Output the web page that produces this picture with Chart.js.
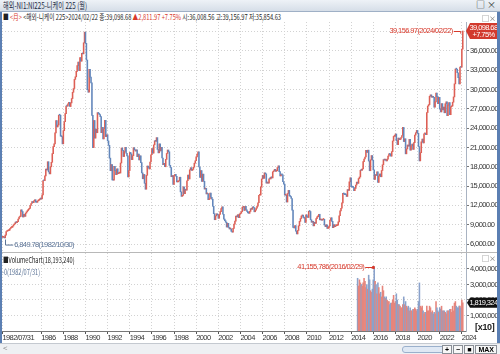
<!DOCTYPE html>
<html>
<head>
<meta charset="utf-8">
<script src="https://cdn.jsdelivr.net/npm/chart.js@4.4.1/dist/chart.umd.min.js"></script>
<style>
  body { margin: 0; width: 500px; height: 354px; overflow: hidden; background: #fff; position: relative;
         font-family: "Noto Sans CJK KR", sans-serif; }
  .abs { position: absolute; white-space: nowrap; }
  #title { left: 0; top: 0; width: 500px; height: 11px; background: linear-gradient(#eef2f7, #d6dee8);
           border-bottom: 1px solid #9fb0c6; }
  #title span { position: absolute; left: 3px; top: -1px; font-size: 9px; color: #1c2a44;
                transform: scaleX(0.69); transform-origin: left; }
  #winbtn { right: 4px; top: -2px; font-size: 9px; color: #333; }
  #info { left: 3px; top: 11px; font-size: 8px; color: #222; transform: scaleX(0.71); transform-origin: left; }
  #info .r { color: #d8392b; }
  #priceWrap { left: 0; top: 22px; }
  #volWrap { left: 0; top: 252px; border-top: 1px solid #b8b8b8; }
  canvas { display: block; }
  .mini { font-size: 7px; color: #666; right: 4px; }
  #volTitle { left: 3px; top: 254px; font-size: 8px; color: #222; transform: scaleX(0.7); transform-origin: left; }
  #volZero { left: 2px; top: 266px; font-size: 8px; color: #5b7396; transform: scaleX(0.7); transform-origin: left; }
  #x10 { left: 475px; top: 322px; font-size: 9px; font-weight: bold; color: #222; font-family: "Liberation Sans", sans-serif; letter-spacing: -0.3px; }
  #bottom { left: 0; top: 343px; width: 500px; height: 11px; background: #eef0f3; border-top: 1px solid #c4c9d0; }
  #bottom .lt { position: absolute; left: 3px; top: -2px; font-size: 8px; color: #888; }
  #slider { position: absolute; left: 402px; top: 2px; width: 48px; height: 5px; border: 1px solid #9ab0cc;
            border-radius: 3px; background: #dfe8f4; }
  #btns { position: absolute; right: 3px; top: 1px; font-size: 7px; font-family: "Liberation Sans", sans-serif; font-weight: bold; }
  #btns span { display: inline-block; border: 1px solid #8a8f96; background: #f7f7f7; padding: 0 2px; line-height: 7px; margin-left: 1px; }
  .frameL { left: 0; top: 12px; width: 2px; height: 331px; background: #5b7fb3; }
  .frameR { right: 0; top: 12px; width: 3px; height: 331px; background: #5b7fb3; }
</style>
</head>
<body>
<div id="title" class="abs"><span>해외-NI1:NI225-니케이 225 (월)</span></div>
<div id="winbtn" class="abs">□ ×</div>
<div id="info" class="abs">■ <span class="r">&lt;月&gt;</span> &lt;해외-니케이 225&gt;2024/02/22 종:39,098.68 <span class="r">▲2,811.97 +7.75%</span> 시:36,008.56 고:39,156.97 저:35,854.63</div>
<div id="priceWrap" class="abs"><canvas id="priceChart" width="500" height="230"></canvas></div>
<div id="volWrap" class="abs"><canvas id="volChart" width="500" height="90"></canvas></div>
<div class="abs mini" style="top:13px">□×</div>
<div class="abs mini" style="top:253px">□×</div>
<div id="volTitle" class="abs">■VolumeChart(18,193,240)</div>
<div id="volZero" class="abs">-0(1982/07/31)</div>
<div id="x10" class="abs">[x10]</div>
<div id="bottom" class="abs"><span class="lt">&lt;</span><div id="slider"></div>
  <div id="btns"><span>+</span><span>−</span><span>■</span><span>MAX</span></div></div>
<div class="abs frameL"></div>
<div class="abs frameR"></div>

<script>
// 월봉 시작월, 종가 (1982/07 ~ 2024/02)
const startYear = 1982, startMonth = 7;
const monthlyClose = [
  7040, 7100, 6950, 7390, 7950, 8017,
  8090, 8150, 8410, 8560, 8600, 8800, 9000, 9150, 9400, 9330, 9460, 9894,
  10200, 10300, 11300, 11050, 10200, 10600, 10300, 10800, 11000, 11200, 11400, 11543,
  11990, 12300, 12580, 12420, 12700, 12880, 12500, 12480, 12700, 12800, 12930, 13113,
  13024, 13640, 15860, 15825, 16590, 17654, 17500, 18787, 17200, 16900, 18000, 18701,
  20048, 21144, 21566, 23274, 25200, 24177, 24488, 26029, 26011, 22765, 22687, 21564,
  23620, 25000, 26260, 27434, 27417, 27769, 28000, 27366, 27924, 28600, 29579, 30159,
  31581, 31985, 32839, 33713, 34266, 32949, 34954, 34431, 35637, 35549, 37269, 38916,
  37189, 34591, 29980, 29584, 33131, 31940, 31036, 25978, 20984, 25194, 22455, 23849,
  23293, 26409, 26292, 26111, 25790, 23291, 24120, 22336, 23916, 25222, 22687, 22984,
  22023, 21339, 19346, 17391, 18348, 15952, 15910, 18061, 17399, 16767, 17684, 16925,
  17024, 17033, 18591, 20919, 20552, 19590, 20380, 21027, 20106, 19703, 16408, 17417,
  20229, 19997, 19112, 19725, 20974, 20644, 20449, 20629, 19564, 19990, 19076, 19723,
  18650, 17053, 16140, 16807, 15437, 14517, 16678, 18117, 17913, 17655, 18744, 19868,
  20813, 20125, 21407, 22041, 21956, 22531, 20693, 20167, 21556, 20466, 21020, 19361,
  18330, 18557, 18003, 19151, 20069, 20605, 20331, 18229, 17888, 16459, 16636, 15259,
  16628, 16832, 16527, 15641, 15671, 15830, 16379, 14108, 13406, 13564, 14883, 13842,
  14499, 14368, 15837, 16702, 16112, 17530, 17862, 17437, 17605, 17942, 18558, 18934,
  19540, 19960, 20337, 17974, 16332, 17411, 15727, 16861, 15747, 14540, 14649, 13786,
  13844, 12884, 12999, 13934, 13262, 12969, 11861, 10714, 9775, 10367, 10697, 10543,
  9998, 10588, 11025, 11493, 11764, 10622, 9877, 9619, 9383, 8640, 9216, 8579,
  8340, 8363, 7973, 7831, 8425, 9083, 9563, 10344, 10219, 10560, 10101, 10677,
  10784, 11042, 11715, 11762, 11236, 11859, 11326, 11082, 10824, 10771, 11069, 11489,
  11388, 11741, 11669, 11009, 11277, 11584, 11900, 12414, 13574, 13607, 14872, 16111,
  16650, 16205, 17060, 16906, 15467, 15505, 15457, 16141, 16128, 16399, 16274, 17226,
  17383, 17604, 17288, 17400, 17876, 18138, 17249, 16569, 16786, 16737, 15681, 15308,
  13592, 13603, 12526, 13850, 14338, 13481, 13377, 13073, 11260, 8577, 8512, 8860,
  7994, 7568, 8110, 8828, 9523, 9958, 10357, 10493, 10133, 10035, 9346, 10546,
  10198, 10126, 11090, 11057, 9769, 9383, 9537, 8824, 9369, 9202, 9937, 10229,
  10238, 10624, 9755, 9850, 9694, 9816, 9833, 8955, 8700, 8988, 8435, 8455,
  8803, 9723, 10084, 9521, 8543, 9007, 8695, 8840, 8870, 8928, 9446, 10395,
  11139, 11559, 12398, 13861, 13775, 13677, 13668, 13389, 14456, 14328, 15662, 16291,
  14915, 14841, 14828, 14304, 14632, 15162, 15621, 15425, 16174, 16414, 17460, 17451,
  17674, 18798, 19207, 19520, 20563, 20236, 20585, 18890, 17388, 19083, 19747, 19034,
  17518, 16027, 16759, 16666, 17235, 15576, 16569, 16887, 16450, 17425, 18308, 19114,
  19041, 19119, 18909, 19197, 19651, 20033, 19925, 19646, 20356, 22012, 22725, 22765,
  23098, 22068, 21454, 22468, 22202, 22305, 22554, 22865, 24120, 21920, 22351, 20015,
  20773, 21385, 21206, 22259, 20601, 21276, 21522, 20704, 21756, 22927, 23294, 23657,
  23205, 21143, 18917, 20194, 21878, 22288, 21710, 23140, 23185, 22977, 26434, 27444,
  27663, 28966, 29179, 28813, 28860, 28792, 27284, 28090, 29453, 28893, 27822, 28792,
  27002, 26527, 27821, 26848, 27280, 26393, 27802, 28092, 25937, 27587, 27969, 26095,
  27327, 27446, 28041, 28856, 30888, 33189, 33172, 32619, 31858, 30859, 33487, 33464,
  36287, 39099
];
const lastClose = 39098.68, lastChange = '+7.75%';
const highMark = { value: 39156.97, date: '2024/02/22' };
const lowMark = { value: 6849.78, date: '1982/10/30' };

// 거래량 (원 단위, 축은 [x10]), 2014/08 부터
const volumeStart = '2014/08';
const volumeValues = [
  34000000, 29000000, 33000000, 31000000, 30000000,
  29000000, 31000000, 34000000, 32000000, 28000000, 30000000, 27000000, 36000000, 33000000, 26000000, 25000000, 27000000,
  33000000, 41155786, 32000000, 30000000, 24000000, 31000000, 28000000, 24000000, 25000000, 22000000, 29000000, 26000000,
  22000000, 21000000, 22000000, 20000000, 19000000, 19000000, 17000000, 18000000, 18000000, 20000000, 23000000, 18000000,
  19000000, 24000000, 20000000, 17000000, 17000000, 16000000, 15000000, 15000000, 17000000, 22000000, 17000000, 19000000,
  16000000, 15000000, 16000000, 13000000, 15000000, 13000000, 13000000, 14000000, 14000000, 15000000, 14000000, 13000000,
  14000000, 19000000, 31000000, 16000000, 15000000, 16000000, 13000000, 11000000, 12000000, 12000000, 16000000, 13000000,
  13000000, 16000000, 15000000, 12000000, 13000000, 11000000, 12000000, 11000000, 19000000, 15000000, 13000000, 12000000,
  15000000, 14000000, 16000000, 13000000, 13000000, 13000000, 12000000, 11000000, 13000000, 13000000, 13000000, 14000000,
  14000000, 12000000, 16000000, 13000000, 18000000, 19000000, 16000000, 15000000, 15000000, 16000000, 16000000, 15000000,
  20000000, 18193240
];
const volumeScale = 10;
const volumePeakDate = '2016/02/29';

const priceTicks = [6000, 9000, 12000, 15000, 18000, 21000, 24000, 27000, 30000, 33000, 36000, 39000];
const volumeTicks = [1000000, 2000000, 3000000, 4000000];
const yearTickYears = [1986, 1988, 1990, 1992, 1994, 1996, 1998, 2000, 2002, 2004, 2006, 2008, 2010, 2012, 2014, 2016, 2018, 2020, 2022, 2024];

// 라벨 (월 단위, 오른쪽 여유 3칸)
const monthLabels = [];
for (let i = 0; i < monthlyClose.length + 3; i++) {
  const m = startMonth - 1 + i;
  monthLabels.push((startYear + Math.floor(m / 12)) + '/' + String(m % 12 + 1).padStart(2, '0'));
}
const tickIdx = [0].concat(yearTickYears.map(y => monthLabels.indexOf(y + '/01')));

const UP = '#dd5f55', DOWN = '#6286bb';
const bodies = monthlyClose.map((c, i) => {
  const o = i === 0 ? c : monthlyClose[i - 1];
  return [Math.min(o, c), Math.max(o, c)];
});
const dirColors = monthlyClose.map((c, i) => (i === 0 || c >= monthlyClose[i - 1]) ? UP : DOWN);

const vStart = monthLabels.indexOf(volumeStart);
const volumes = monthLabels.map((l, i) => (i >= vStart && i - vStart < volumeValues.length) ? volumeValues[i - vStart] / volumeScale : null);
const volColors = monthLabels.map((l, i) => dirColors[i] === DOWN ? '#8aa2cb' : '#e6857c');

const FONT = '"Liberation Sans", sans-serif';
const SPACING = '-0.6px';
Chart.defaults.font.family = FONT;
Chart.defaults.font.size = 7.5;
Chart.defaults.color = '#333';

// 좁은 글자폭 (HTS 비트맵 글꼴 느낌)
const tightText = {
  id: 'tightText',
  beforeInit(chart) { chart.ctx.letterSpacing = SPACING; },
  beforeUpdate(chart) { chart.ctx.letterSpacing = SPACING; },
  beforeDraw(chart) { chart.ctx.letterSpacing = SPACING; }
};

const gridOpts = { color: '#d2d2d2', offset: false };
const setXTicks = s => { s.ticks = tickIdx.map(v => ({ value: v })); };
const noPadY = w => s => { s.width = w; s.paddingTop = 0; s.paddingBottom = 0; };

const priceNotes = {
  id: 'priceNotes',
  afterDraw(chart) {
    const { ctx, scales: { x, y } } = chart;
    ctx.save();
    ctx.font = '7.5px ' + FONT;
    // 최고가
    let px = x.getPixelForValue(monthLabels.indexOf(highMark.date.slice(0, 7)));
    let py = y.getPixelForValue(highMark.value);
    ctx.strokeStyle = '#d8392b'; ctx.fillStyle = '#d8392b'; ctx.lineWidth = 1;
    ctx.beginPath(); ctx.moveTo(px - 9, Math.round(py) + 0.5); ctx.lineTo(px - 2, Math.round(py) + 0.5); ctx.lineTo(px - 2, py + 3); ctx.stroke();
    ctx.textAlign = 'right'; ctx.textBaseline = 'middle';
    ctx.fillText(highMark.value.toLocaleString('en-US', { minimumFractionDigits: 2 }) + '(' + highMark.date + ')', px - 10, py);
    // 최저가
    px = x.getPixelForValue(monthLabels.indexOf(lowMark.date.slice(0, 7)));
    py = y.getPixelForValue(lowMark.value);
    ctx.strokeStyle = '#5b7396'; ctx.fillStyle = '#5b7396';
    ctx.beginPath(); ctx.moveTo(Math.round(px) + 0.5, py + 1); ctx.lineTo(Math.round(px) + 0.5, py + 6.5); ctx.lineTo(px + 8, py + 6.5); ctx.stroke();
    ctx.textAlign = 'left';
    ctx.fillText(lowMark.value.toLocaleString('en-US', { minimumFractionDigits: 2 }) + '(' + lowMark.date + ')', px + 9, py + 6);
    // 현재가 박스
    py = y.getPixelForValue(lastClose);
    const bx = chart.chartArea.right + 2;
    ctx.fillStyle = '#d23a2e';
    ctx.beginPath(); ctx.moveTo(bx - 2, py); ctx.lineTo(bx + 2, py - 8); ctx.lineTo(497, py - 8);
    ctx.lineTo(497, py + 8); ctx.lineTo(bx + 2, py + 8); ctx.closePath(); ctx.fill();
    ctx.fillStyle = '#fff'; ctx.textAlign = 'center';
    ctx.fillText(lastClose.toLocaleString('en-US', { minimumFractionDigits: 2 }), (bx + 497) / 2 + 1, py - 3.5);
    ctx.fillText(lastChange, (bx + 497) / 2 + 1, py + 4);
    ctx.restore();
  }
};

new Chart(document.getElementById('priceChart'), {
  type: 'bar',
  data: {
    labels: monthLabels,
    datasets: [{ data: bodies, backgroundColor: dirColors, borderWidth: 0,
                 barPercentage: 1, categoryPercentage: 1, minBarLength: 1 }]
  },
  options: {
    responsive: false, animation: false, events: [],
    layout: { padding: { left: 2, top: 0, right: 0, bottom: 0 } },
    plugins: { legend: { display: false }, tooltip: { enabled: false } },
    scales: {
      x: {
        grid: { ...gridOpts, drawTicks: false }, border: { display: false, dash: [1, 2] },
        ticks: { display: false, autoSkip: false }, afterBuildTicks: setXTicks,
        afterFit: s => { s.height = 0; s.paddingLeft = 0; s.paddingRight = 0; }
      },
      y: {
        position: 'right', min: 4760, max: 40500,
        afterBuildTicks: s => { s.ticks = priceTicks.map(v => ({ value: v })); },
        afterFit: noPadY(34),
        grid: { ...gridOpts, tickLength: 3, tickColor: '#777' },
        border: { color: '#a9b3c2', dash: [1, 2] },
        ticks: { padding: 1, callback: v => v.toLocaleString('en-US', { minimumFractionDigits: 2 }) }
      }
    }
  },
  plugins: [tightText, priceNotes]
});

const volNotes = {
  id: 'volNotes',
  afterDraw(chart) {
    const { ctx, scales: { x, y } } = chart;
    ctx.save();
    ctx.font = '7.5px ' + FONT;
    const pi = monthLabels.indexOf(volumePeakDate.slice(0, 7));
    const px = x.getPixelForValue(pi), py = Math.round(y.getPixelForValue(volumes[pi]));
    ctx.strokeStyle = '#d8392b'; ctx.fillStyle = '#d8392b'; ctx.lineWidth = 1;
    ctx.beginPath(); ctx.moveTo(px - 9, py + 0.5); ctx.lineTo(px - 1, py + 0.5); ctx.stroke();
    ctx.fillRect(px - 2, py - 1, 2.5, 3);
    ctx.textAlign = 'right'; ctx.textBaseline = 'middle';
    ctx.fillText(volumeValues[pi - vStart].toLocaleString('en-US') + '(' + volumePeakDate + ')', px - 10, py);
    // 현재 거래량 박스
    const cur = volumes[volumeValues.length - 1 + vStart];
    const cy = y.getPixelForValue(cur), bx = chart.chartArea.right + 2;
    ctx.fillStyle = '#111';
    ctx.beginPath(); ctx.moveTo(bx - 1, cy); ctx.lineTo(bx + 2, cy - 5); ctx.lineTo(497, cy - 5);
    ctx.lineTo(497, cy + 5); ctx.lineTo(bx + 2, cy + 5); ctx.closePath(); ctx.fill();
    ctx.fillStyle = '#fff'; ctx.textAlign = 'center';
    ctx.fillText(Math.round(cur).toLocaleString('en-US'), (bx + 497) / 2 + 1, cy + 0.5);
    ctx.restore();
  }
};

new Chart(document.getElementById('volChart'), {
  type: 'bar',
  data: {
    labels: monthLabels,
    datasets: [{ data: volumes, backgroundColor: volColors, borderWidth: 0,
                 barPercentage: 1, categoryPercentage: 1 }]
  },
  options: {
    responsive: false, animation: false, events: [],
    layout: { padding: { left: 2, top: 0, right: 0, bottom: 0 } },
    plugins: { legend: { display: false }, tooltip: { enabled: false } },
    scales: {
      x: {
        grid: { ...gridOpts, tickLength: 3, tickColor: '#555' },
        border: { color: '#777', dash: [1, 2] },
        afterBuildTicks: setXTicks,
        afterFit: s => { s.height = 12; s.paddingLeft = 0; s.paddingRight = 0; },
        ticks: { autoSkip: false, maxRotation: 0, align: 'start', padding: -1,
                 callback: v => v === 0 ? monthLabels[0] + '/31' : monthLabels[v].slice(0, 4) }
      },
      y: {
        position: 'right', min: 0, max: 5030000,
        afterBuildTicks: s => { s.ticks = volumeTicks.map(v => ({ value: v })); },
        afterFit: noPadY(34),
        grid: { ...gridOpts, tickLength: 3, tickColor: '#777' },
        border: { color: '#a9b3c2', dash: [1, 2] },
        ticks: { padding: 1, callback: v => v.toLocaleString('en-US') }
      }
    }
  },
  plugins: [tightText, volNotes]
});
</script>
</body>
</html>
